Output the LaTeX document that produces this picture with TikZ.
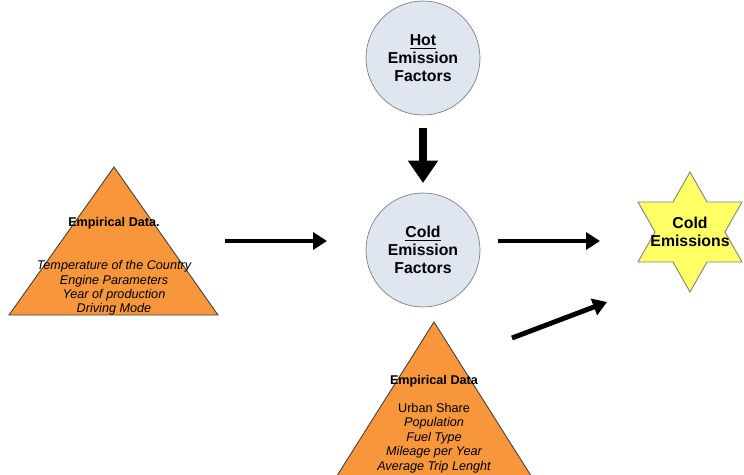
\documentclass[tikz,border=0pt]{standalone}
\usepackage{fontspec}
\setmainfont{Liberation Sans}
\usetikzlibrary{arrows.meta,positioning}
\definecolor{triOrange}{HTML}{F7963A}
\definecolor{circBlue}{HTML}{DFE6F0}
\definecolor{starYellow}{HTML}{FFFF66}
\definecolor{edgeGray}{HTML}{808080}

\begin{document}
\begin{tikzpicture}[x=0.02cm,y=-0.02cm,
  factor/.style={circle,draw=edgeGray,fill=circBlue,minimum size=2.28cm,inner sep=0pt,
    align=center,font=\fontsize{9}{10.3}\selectfont\bfseries},
  tri/.style={draw=black!75,fill=triOrange,line width=0.5pt},
  datahead/.style={font=\fontsize{7.2}{8.3}\selectfont\bfseries},
  datatext/.style={align=center,font=\fontsize{7.2}{8.2}\selectfont\itshape},
  flow/.style={line width=2.8pt,-{Triangle[length=0.28cm,width=0.34cm]}},
  bigflow/.style={line width=5pt,-{Triangle[length=0.45cm,width=0.58cm]}}]
\useasboundingbox (0,0) rectangle (744,474);
\fill[white] (0,0) rectangle (744,474);

% emission factors
\node[factor] (hot) at (423,58) {\underline{Hot}\\Emission\\Factors};
\node[factor] (cold) at (423,250) {\underline{Cold}\\Emission\\Factors};

% empirical data triangles
\draw[tri] (114,167) -- (218,315) -- (9,315) -- cycle;
\node[datahead] (emp1) at (114,223) {Empirical Data.};
\node[datatext] (emp1list) at (114,288) {Temperature of the Country\\Engine Parameters\\Year of production\\Driving Mode};
\draw[tri] (434,322) -- (540,490) -- (328,490) -- cycle;
\node[datahead] (emp2) at (434,381) {Empirical Data};
\node[datatext] (emp2list) at (434,438) {\upshape Urban Share\\Population\\Fuel Type\\Mileage per Year\\Average Trip Lenght};

% result star
\draw[draw=edgeGray,fill=starYellow,line width=0.5pt]
  (690,172) -- (707,202) -- (742,202) -- (725,232) -- (742,262) -- (707,262)
  -- (690,292) -- (673,262) -- (638,262) -- (655,232) -- (638,202) -- (673,202) -- cycle;
\node[align=center,font=\fontsize{9}{10.3}\selectfont\bfseries] (result) at (690,232) {Cold\\Emissions};

% arrows
\coordinate (a0s) at (423,128);
\coordinate (a0e) at (423,183);
\coordinate (a1s) at (225,241);
\coordinate (a1e) at (327,241);
\coordinate (a2s) at (498,241);
\coordinate (a2e) at (600,241);
\coordinate (a3s) at (512,338);
\coordinate (a3e) at (607,302);
\draw[bigflow] (a0s) -- (a0e);
\draw[flow] (a1s) -- (a1e);
\draw[flow] (a2s) -- (a2e);
\draw[flow] (a3s) -- (a3e);
\end{tikzpicture}
\end{document}
